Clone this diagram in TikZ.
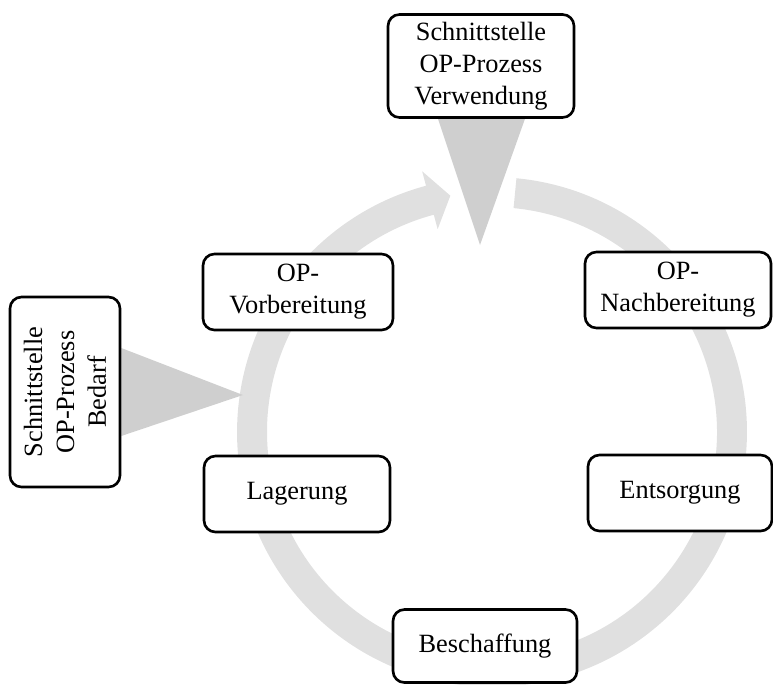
\documentclass[tikz,border=0pt]{standalone}
\usepackage{fontspec}
\setmainfont{Liberation Serif}
\usepackage{tikz}
\usetikzlibrary{positioning,calc,backgrounds}
\definecolor{RingGray}{HTML}{E0E0E0}
\definecolor{PointGray}{HTML}{CFCFCF}

\begin{document}
\begin{tikzpicture}[
  x=0.02cm, y=0.02cm,
  every node/.style={font=\fontsize{15pt}{18.2pt}\selectfont},
  stage/.style={rectangle, rounded corners=6.5pt, draw=black, fill=white, line width=1.5pt, minimum width=3.72cm, minimum height=1.52cm, align=center, inner sep=1pt},
  iface/.style={stage, minimum height=2.06cm},
  ring/.style={fill=RingGray},
  pointer/.style={fill=PointGray}
]
\useasboundingbox (0,0) rectangle (773,684);

%% interface boxes
\node[iface] (use) at (481,618) {Schnittstelle\\OP-Prozess\\Verwendung};
\node[iface, rotate=90, minimum width=3.8cm, minimum height=2.2cm] (need) at (65,292) {Schnittstelle\\OP-Prozess\\Bedarf};

%% process stages
\node[stage, minimum width=3.8cm] (prep) at (298,392) {OP-\\Vorbereitung};
\node[stage] (post) at (678,394) {OP-\\Nachbereitung};
\node[stage] (store) at (297,190) {Lagerung};
\node[stage, minimum width=3.68cm] (disp) at (680,191) {Entsorgung};
\node[stage, minimum width=3.68cm, minimum height=1.46cm] (buy) at (485,38) {Beschaffung};

\begin{scope}[on background layer]
%% circular arrow behind the stages
\coordinate (c) at (492,252);
\fill[ring] ($(c)+(84.5:5.1cm)$) arc[start angle=84.5, end angle=-255, radius=5.1cm]
  -- ($(c)+(105:5.4cm)$) -- ($(c)+(100:4.8cm)$) -- ($(c)+(105:4.2cm)$)
  -- ($(c)+(105:4.5cm)$) arc[start angle=-255, end angle=84.5, radius=4.5cm] -- cycle;
%% pointers of the interfaces
\coordinate (usetip) at (480,439);
\coordinate (needtip) at (243,289);
\fill[pointer] ($(use.south)+(-0.86cm,0)$) -- ($(use.south)+(0.88cm,0)$) -- (usetip) -- cycle;
\fill[pointer] ($(need.south)+(0,0.88cm)$) -- ($(need.south)+(0,-0.88cm)$) -- (needtip) -- cycle;
\end{scope}
\end{tikzpicture}
\end{document}
